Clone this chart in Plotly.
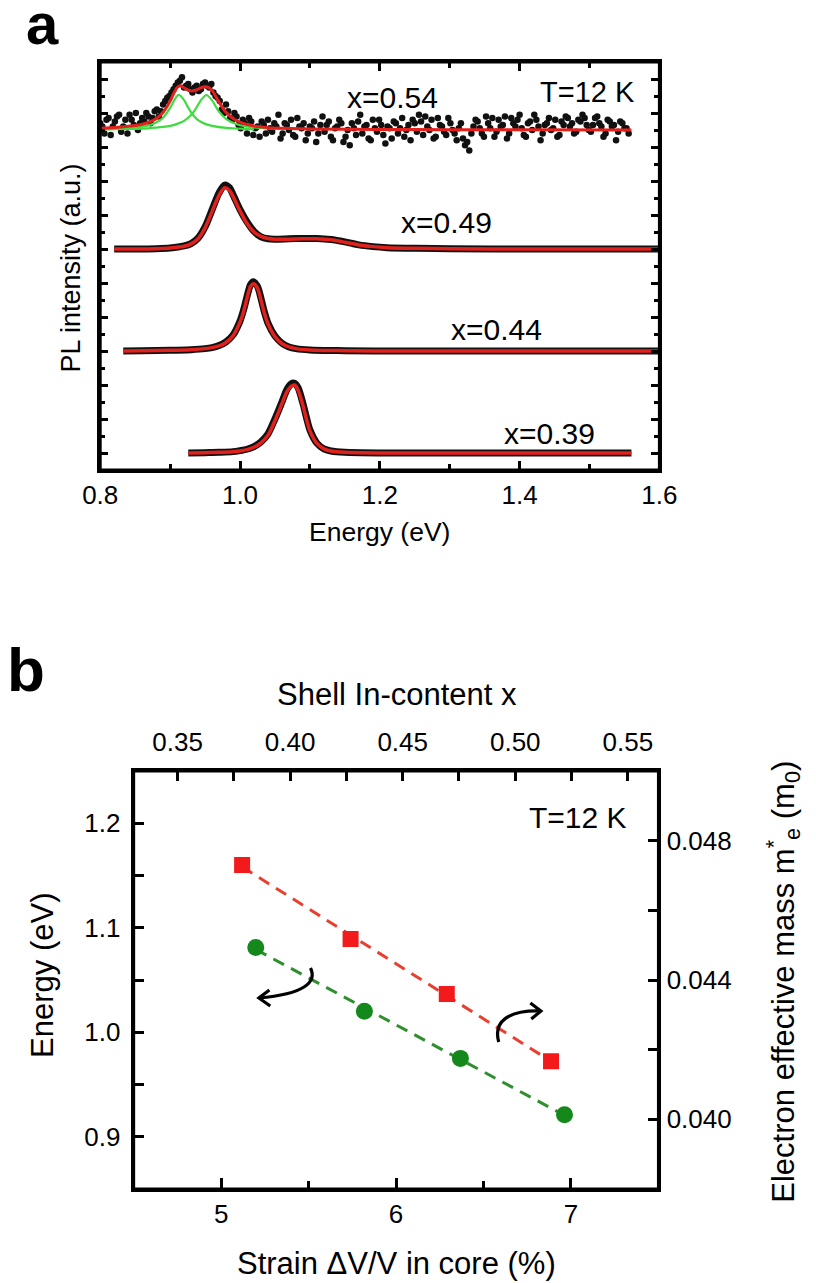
import numpy as np
import plotly.graph_objects as go

FONT = "Liberation Sans, Arial, sans-serif"

# ---------------- Panel a: PL spectra (energy in eV, intensity in a.u. above each baseline) ----------------
offset_039, offset_044, offset_049, offset_054 = 0.0, 3.0, 6.0, 9.5

E_fit_039 = [0.926, 0.95, 0.97, 0.99, 1.0, 1.01, 1.02, 1.03, 1.04, 1.05, 1.06, 1.067, 1.073, 1.078,
             1.083, 1.09, 1.095, 1.10, 1.11, 1.12, 1.13, 1.15, 1.2, 1.3, 1.4, 1.56]
I_fit_039 = [0.0, 0.01, 0.02, 0.04, 0.06, 0.1, 0.17, 0.3, 0.52, 0.95, 1.45, 1.8, 1.96, 2.0,
             1.85, 1.4, 1.0, 0.65, 0.28, 0.12, 0.06, 0.02, 0.0, 0.0, 0.0, 0.0]
I_dat_039 = [0.0, 0.01, 0.02, 0.04, 0.07, 0.11, 0.19, 0.33, 0.56, 1.0, 1.5, 1.86, 2.03, 2.05,
             1.92, 1.46, 1.05, 0.68, 0.29, 0.12, 0.06, 0.02, 0.0, 0.0, 0.0, 0.0]

E_fit_044 = [0.833, 0.86, 0.90, 0.93, 0.95, 0.96, 0.97, 0.98, 0.99, 1.0, 1.005, 1.01, 1.015, 1.019,
             1.025, 1.03, 1.035, 1.04, 1.05, 1.06, 1.07, 1.08, 1.1, 1.15, 1.2, 1.4, 1.6]
I_fit_044 = [0.0, 0.01, 0.02, 0.04, 0.07, 0.1, 0.15, 0.25, 0.45, 0.85, 1.15, 1.55, 1.9, 1.98,
             1.85, 1.5, 1.1, 0.8, 0.42, 0.22, 0.12, 0.07, 0.03, 0.01, 0.0, 0.0, 0.0]
I_dat_044 = [0.0, 0.01, 0.02, 0.04, 0.07, 0.1, 0.16, 0.27, 0.47, 0.88, 1.2, 1.6, 1.95, 2.04,
             1.9, 1.55, 1.14, 0.82, 0.44, 0.23, 0.12, 0.07, 0.03, 0.01, 0.0, 0.0, 0.0]

E_fit_049 = [0.82, 0.85, 0.88, 0.90, 0.92, 0.93, 0.94, 0.95, 0.96, 0.97, 0.978, 0.985, 0.99, 1.0,
             1.01, 1.02, 1.03, 1.04, 1.05, 1.07, 1.09, 1.11, 1.13, 1.15, 1.17, 1.19, 1.21, 1.25,
             1.3, 1.4, 1.6]
I_fit_049 = [0.0, 0.0, 0.01, 0.03, 0.08, 0.15, 0.3, 0.62, 1.1, 1.58, 1.8, 1.72, 1.55, 1.12,
             0.75, 0.5, 0.37, 0.31, 0.29, 0.29, 0.3, 0.3, 0.27, 0.2, 0.12, 0.07, 0.04, 0.02,
             0.01, 0.0, 0.0]
I_dat_049 = [0.0, 0.0, 0.01, 0.03, 0.09, 0.16, 0.32, 0.65, 1.15, 1.65, 1.88, 1.8, 1.6, 1.16,
             0.8, 0.52, 0.36, 0.3, 0.29, 0.3, 0.31, 0.31, 0.28, 0.21, 0.12, 0.07, 0.04, 0.02,
             0.01, 0.0, 0.0]

E_fit_054 = [0.80, 0.82, 0.84, 0.86, 0.87, 0.88, 0.89, 0.90, 0.905, 0.91, 0.915, 0.92, 0.925,
             0.93, 0.935, 0.94, 0.945, 0.952, 0.96, 0.965, 0.97, 0.98, 0.99, 1.00, 1.02, 1.04,
             1.06, 1.1, 1.2, 1.3, 1.4, 1.56]
I_fit_054 = [0.05, 0.07, 0.11, 0.17, 0.23, 0.33, 0.52, 0.85, 1.07, 1.25, 1.3, 1.24, 1.18,
             1.15, 1.16, 1.2, 1.25, 1.27, 1.17, 1.0, 0.82, 0.52, 0.34, 0.23, 0.12, 0.07,
             0.05, 0.03, 0.015, 0.01, 0.01, 0.0]
E_cmp1_054 = [0.80, 0.82, 0.84, 0.86, 0.87, 0.88, 0.89, 0.90, 0.905, 0.91, 0.913, 0.92, 0.925,
              0.93, 0.935, 0.94, 0.95, 0.96, 0.98, 1.00, 1.02]
I_cmp1_054 = [0.02, 0.03, 0.05, 0.1, 0.14, 0.22, 0.36, 0.65, 0.84, 1.0, 1.03, 0.88, 0.69,
              0.52, 0.39, 0.29, 0.18, 0.12, 0.06, 0.04, 0.02]
E_cmp2_054 = [0.80, 0.84, 0.86, 0.88, 0.89, 0.90, 0.91, 0.92, 0.93, 0.935, 0.94, 0.945, 0.952,
              0.96, 0.965, 0.97, 0.98, 0.99, 1.00, 1.02, 1.04, 1.06]
I_cmp2_054 = [0.02, 0.03, 0.04, 0.07, 0.09, 0.12, 0.18, 0.27, 0.44, 0.57, 0.74, 0.9, 1.03,
              0.87, 0.7, 0.54, 0.33, 0.21, 0.14, 0.075, 0.046, 0.031]

E_dat_054 = [0.800, 0.806, 0.812, 0.818, 0.824, 0.830, 0.836, 0.842, 0.848, 0.854, 0.860, 0.866,
             0.872, 0.878, 0.884, 0.890, 0.896, 0.902, 0.908, 0.914, 0.920, 0.926, 0.932, 0.938,
             0.944, 0.950, 0.956, 0.962, 0.968, 0.974, 0.980, 0.986, 0.992, 0.998, 1.004, 1.010,
             1.016, 1.022, 1.028, 1.034, 1.040, 1.046, 1.052, 1.058, 1.064, 1.070, 1.076, 1.082,
             1.088, 1.094, 1.100, 1.106, 1.112, 1.118, 1.124, 1.130, 1.136, 1.142, 1.148, 1.154,
             1.160, 1.166, 1.172, 1.178, 1.184, 1.190, 1.196, 1.202, 1.208, 1.214, 1.220, 1.226,
             1.232, 1.238, 1.244, 1.250, 1.256, 1.262, 1.268, 1.274, 1.280, 1.286, 1.292, 1.298,
             1.304, 1.310, 1.316, 1.322, 1.328, 1.334, 1.340, 1.346, 1.352, 1.358, 1.364, 1.370,
             1.376, 1.382, 1.388, 1.394, 1.400, 1.406, 1.412, 1.418, 1.424, 1.430, 1.436, 1.442,
             1.448, 1.454, 1.460, 1.466, 1.472, 1.478, 1.484, 1.490, 1.496, 1.502, 1.508, 1.514,
             1.520, 1.526, 1.532, 1.538, 1.544, 1.550, 1.556]
I_dat_054 = [0.2, -0.1, 0.35, 0.1, 0.4, -0.05, 0.3, 0.45, 0.15, 0.0, 0.35, 0.5,
             0.2, 0.55, 0.4, 0.75, 0.95, 1.1, 1.3, 1.45, 1.25, 1.35, 1.1, 1.3,
             1.2, 1.4, 1.25, 1.1, 0.95, 0.6, 0.75, 0.35, 0.5, 0.15, 0.3, -0.1,
             0.25, 0.05, -0.2, 0.15, 0.3, -0.05, 0.1, -0.25, 0.2, 0.0, -0.15, 0.35,
             0.05, -0.3, 0.1, 0.25, -0.1, 0.4, 0.15, -0.2, 0.05, 0.3, -0.35, 0.0,
             0.2, -0.15, 0.45, 0.1, -0.25, 0.3, -0.05, 0.15, -0.4, 0.05, 0.25, -0.1,
             0.35, 0.0, -0.3, 0.2, 0.45, -0.15, 0.1, 0.3, -0.2, 0.15, -0.05, 0.35,
             0.0, -0.3, 0.2, -0.45, -0.6, 0.1, 0.25, -0.1, 0.4, 0.05, -0.2, 0.3,
             0.15, -0.25, 0.35, 0.1, 0.45, -0.15, 0.2, 0.0, 0.3, -0.3, 0.15, 0.35,
             0.05, -0.2, 0.25, 0.4, 0.1, -0.1, 0.3, 0.45, 0.15, -0.05, 0.35, 0.2,
             -0.2, 0.3, 0.1, -0.3, 0.25, 0.05, -0.1]
E_dat2_054 = [0.803, 0.809, 0.815, 0.821, 0.827, 0.833, 0.839, 0.845, 0.851, 0.857, 0.863, 0.869,
              0.875, 0.881, 0.887, 0.893, 0.899, 0.905, 0.911, 0.917, 0.923, 0.929, 0.935, 0.941,
              0.947, 0.953, 0.959, 0.965, 0.971, 0.977, 0.983, 0.989, 0.995, 1.001, 1.007, 1.013,
              1.019, 1.025, 1.031, 1.037, 1.043, 1.049, 1.055, 1.061, 1.067, 1.073, 1.079, 1.085,
              1.091, 1.097, 1.103, 1.109, 1.115, 1.121, 1.127, 1.133, 1.139, 1.145, 1.151, 1.157,
              1.163, 1.169, 1.175, 1.181, 1.187, 1.193, 1.199, 1.205, 1.211, 1.217, 1.223, 1.229,
              1.235, 1.241, 1.247, 1.253, 1.259, 1.265, 1.271, 1.277, 1.283, 1.289, 1.295, 1.301,
              1.307, 1.313, 1.319, 1.325, 1.331, 1.337, 1.343, 1.349, 1.355, 1.361, 1.367, 1.373,
              1.379, 1.385, 1.391, 1.397, 1.403, 1.409, 1.415, 1.421, 1.427, 1.433, 1.439, 1.445,
              1.451, 1.457, 1.463, 1.469, 1.475, 1.481, 1.487, 1.493, 1.499, 1.505, 1.511, 1.517,
              1.523, 1.529, 1.535, 1.541, 1.547, 1.553]
I_dat2_054 = [0.1, 0.3, -0.15, 0.25, 0.45, 0.1, -0.1, 0.3, 0.5, 0.2, 0.25, 0.4,
              0.35, 0.6, 0.55, 0.85, 1.0, 1.2, 1.4, 1.55, 1.3, 1.2, 1.25, 1.15,
              1.35, 1.3, 1.35, 1.0, 0.85, 0.5, 0.55, 0.3, 0.4, 0.05, 0.2, 0.35,
              -0.15, 0.1, 0.25, -0.1, 0.05, 0.2, 0.45, -0.1, 0.15, 0.3, -0.2, 0.1,
              0.2, -0.1, 0.05, -0.35, 0.15, -0.05, 0.25, -0.3, 0.1, 0.2, -0.2, -0.45,
              0.05, 0.25, -0.1, 0.15, -0.3, 0.05, 0.3, -0.15, 0.1, -0.25, 0.2, 0.05,
              -0.2, 0.15, 0.3, -0.05, 0.25, 0.4, 0.0, -0.25, 0.35, 0.1, -0.15, 0.2,
              -0.1, 0.05, -0.25, -0.35, -0.1, 0.3, 0.05, -0.2, 0.2, 0.35, -0.05, 0.1,
              0.4, -0.1, 0.2, 0.3, 0.05, -0.2, 0.25, 0.45, 0.1, -0.1, 0.2, 0.0,
              0.3, -0.15, 0.15, 0.35, 0.2, -0.05, 0.25, 0.35, 0.0, 0.15, 0.4, 0.1,
              -0.1, 0.25, 0.15, -0.05, 0.2, 0.05]

spectrum_labels = ["x=0.54", "x=0.49", "x=0.44", "x=0.39"]

# ---------------- Panel b ----------------
strain_mass = [5.12, 5.74, 6.29, 6.886]          # % (bottom axis)
mass = [0.0473, 0.04518, 0.0436, 0.04167]        # m0 (right axis)
strain_energy = [5.198, 5.819, 6.368, 6.963]     # %
energy = [1.081, 1.020, 0.975, 0.921]            # eV (left axis)

shell_ticks = [0.35, 0.40, 0.45, 0.50, 0.55]
energy_ticks = [0.9, 1.0, 1.1, 1.2]
mass_ticks = [0.040, 0.044, 0.048]
strain_ticks = [5, 6, 7]

RED = "#f21a1a"
FITRED = "#e3211c"
GREEN_LINE = "#3fdc3f"
GREEN_PT = "#15881c"
GREEN_DASH = "#2f8f2f"
RED_DASH = "#e8402e"

W, H = 816, 1283
A_L, A_R, A_T, A_B = 86, 671, 62, 470
B_L, B_R, B_T, B_B = 121, 670, 771, 1189


def px(x):
    return x / W


def py(y):
    return 1 - y / H


fig = go.Figure()


def off(vals, o):
    return [v + o for v in vals]


for E, Id, If, o in [(E_fit_039, I_dat_039, I_fit_039, offset_039),
                     (E_fit_044, I_dat_044, I_fit_044, offset_044),
                     (E_fit_049, I_dat_049, I_fit_049, offset_049)]:
    fig.add_trace(go.Scatter(x=E, y=off(Id, o), mode="lines",
                             line=dict(color="#111111", width=7, shape="spline", smoothing=0.8),
                             xaxis="x", yaxis="y", showlegend=False, hoverinfo="skip"))
    fig.add_trace(go.Scatter(x=E, y=off(If, o), mode="lines",
                             line=dict(color=FITRED, width=3.5, shape="spline", smoothing=0.8),
                             xaxis="x", yaxis="y", showlegend=False, hoverinfo="skip"))

for E, I in [(E_dat_054, I_dat_054), (E_dat2_054, I_dat2_054)]:
    fig.add_trace(go.Scatter(x=E, y=off(I, offset_054), mode="markers",
                             marker=dict(color="#111111", size=6.5),
                             xaxis="x", yaxis="y", showlegend=False, hoverinfo="skip"))
fig.add_trace(go.Scatter(x=E_cmp1_054, y=off(I_cmp1_054, offset_054), mode="lines",
                         line=dict(color=GREEN_LINE, width=2.2, shape="spline", smoothing=0.8),
                         xaxis="x", yaxis="y", showlegend=False, hoverinfo="skip"))
fig.add_trace(go.Scatter(x=E_cmp2_054, y=off(I_cmp2_054, offset_054), mode="lines",
                         line=dict(color=GREEN_LINE, width=2.2, shape="spline", smoothing=0.8),
                         xaxis="x", yaxis="y", showlegend=False, hoverinfo="skip"))
fig.add_trace(go.Scatter(x=E_fit_054, y=off(I_fit_054, offset_054), mode="lines",
                         line=dict(color=FITRED, width=3, shape="spline", smoothing=0.8),
                         xaxis="x", yaxis="y", showlegend=False, hoverinfo="skip"))

pm = np.polyfit(strain_mass, mass, 1)
pe = np.polyfit(strain_energy, energy, 1)
xm = [strain_mass[0], strain_mass[-1]]
xe = [strain_energy[0], strain_energy[-1]]
fig.add_trace(go.Scatter(x=xm, y=list(np.polyval(pm, xm)), mode="lines",
                         line=dict(color=RED_DASH, width=3, dash="12px,8px"),
                         xaxis="x2", yaxis="y3", showlegend=False, hoverinfo="skip"))
fig.add_trace(go.Scatter(x=xe, y=list(np.polyval(pe, xe)), mode="lines",
                         line=dict(color=GREEN_DASH, width=3, dash="12px,8px"),
                         xaxis="x2", yaxis="y2", showlegend=False, hoverinfo="skip"))
fig.add_trace(go.Scatter(x=strain_mass, y=mass, mode="markers",
                         marker=dict(symbol="square", color=RED, size=16),
                         xaxis="x2", yaxis="y3", showlegend=False))
fig.add_trace(go.Scatter(x=strain_energy, y=energy, mode="markers",
                         marker=dict(symbol="circle", color=GREEN_PT, size=17),
                         xaxis="x2", yaxis="y2", showlegend=False))
fig.add_trace(go.Scatter(x=[shell_ticks[2]], y=[energy_ticks[1]], mode="markers",
                         marker=dict(size=1, opacity=0), xaxis="x3", yaxis="y2",
                         showlegend=False, hoverinfo="skip"))

axis_common = dict(showline=True, linecolor="#000000", linewidth=3, showgrid=False, zeroline=False,
                   ticks="inside", tickcolor="#000000", tickwidth=2.5,
                   tickfont=dict(family=FONT, size=26, color="black"), layer="above traces")

fig.update_layout(
    width=W, height=H, autosize=False,
    margin=dict(l=0, r=0, t=0, b=0),
    paper_bgcolor="white", plot_bgcolor="white",
    showlegend=False,
    xaxis=dict(axis_common, domain=[px(A_L), px(A_R)], anchor="y", range=[0.8, 1.6],
               tick0=0.8, dtick=0.2, tickformat=".1f", ticklen=9, mirror="ticks",
               minor=dict(ticks="inside", ticklen=6, tickwidth=2.5, tickcolor="#000000", dtick=0.1)),
    yaxis=dict(axis_common, domain=[py(A_B), py(A_T)], anchor="x", range=[-0.5, 11.5],
               tick0=0, dtick=1, ticklen=8, showticklabels=False, mirror="ticks",
               minor=dict(ticks="inside", ticklen=5, tickwidth=2.5, tickcolor="#000000", dtick=0.5)),
    xaxis2=dict(axis_common, domain=[px(B_L), px(B_R)], anchor="y2", range=[4.5, 7.5],
                tick0=5, dtick=1, ticklen=11,
                minor=dict(ticks="inside", ticklen=8, tickwidth=2.5, tickcolor="#000000", dtick=0.5)),
    xaxis3=dict(axis_common, overlaying="x2", side="top", anchor="y2", range=[0.3305, 0.5636],
                tick0=0.35, dtick=0.05, tickformat=".2f", ticklen=10, ticklabelstandoff=7,
                minor=dict(ticks="inside", ticklen=10, tickwidth=2.5, tickcolor="#000000", dtick=0.025)),
    yaxis2=dict(axis_common, domain=[py(B_B), py(B_T)], anchor="x2", range=[0.85, 1.25],
                tick0=0.9, dtick=0.1, tickformat=".1f", ticklen=10, ticklabelstandoff=5,
                minor=dict(ticks="inside", ticklen=10, tickwidth=2.5, tickcolor="#000000", dtick=0.05)),
    yaxis3=dict(axis_common, overlaying="y2", side="right", anchor="x2", range=[0.038, 0.050],
                tick0=0.040, dtick=0.004, tickformat=".3f", ticklen=10,
                minor=dict(ticks="inside", ticklen=10, tickwidth=2.5, tickcolor="#000000", dtick=0.002)),
)

frame = dict(type="line", xref="paper", yref="paper", line=dict(color="#000000", width=3), layer="above")
for L, R, T, B in [(A_L, A_R, A_T, A_B), (B_L, B_R, B_T, B_B)]:
    fig.add_shape(x0=px(L), x1=px(R), y0=py(T), y1=py(T), **frame)
    fig.add_shape(x0=px(L), x1=px(R), y0=py(B), y1=py(B), **frame)
    fig.add_shape(x0=px(L), x1=px(L), y0=py(T), y1=py(B), **frame)
    fig.add_shape(x0=px(R), x1=px(R), y0=py(T), y1=py(B), **frame)

ann = []


def A(text, x, y, size, angle=0, bold=False, xanchor="center"):
    ann.append(dict(text=f"<b>{text}</b>" if bold else text, x=px(x), y=py(y), xref="paper", yref="paper",
                    showarrow=False, xanchor=xanchor, yanchor="middle", textangle=angle,
                    font=dict(family=FONT, size=size, color="black")))


A("a", 26, 24, 58, bold=True)
A("b", 30, 670, 62, bold=True, xanchor="right")
A("T=12 K", 596, 92, 29)
for lab, (x, y) in zip(spectrum_labels, [(392, 98), (448, 222), (501, 329), (556, 433)]):
    A(lab, x, y, 30)
A("Energy (eV)", 378, 532, 26.5)
A("PL intensity (a.u.)", 55, 268, 27, angle=-90)
A("Shell In-content x", 396, 694, 31)
A("Strain ΔV/V in core (%)", 396, 1263, 31)
A("T=12 K", 586, 817, 30)
A("Energy (eV)", 25, 975, 31, angle=-90)
A("Electron effective mass m<sup>*</sup><sub>e</sub> (m<sub>0</sub>)", 800, 982, 31, angle=-90)
fig.update_layout(annotations=ann)

arrow_style = dict(type="path", xref="x2", yref="y2", line=dict(color="black", width=3.2))
fig.add_shape(path="M 5.511,1.0615 C 5.549,1.0481 5.478,1.0366 5.216,1.0328", **arrow_style)
fig.add_shape(path="M 5.276,1.0404 L 5.216,1.0328 L 5.281,1.0251", **arrow_style)
fig.add_shape(path="M 6.587,0.9907 C 6.555,1.0098 6.637,1.0213 6.828,1.0203", **arrow_style)
fig.add_shape(path="M 6.768,1.0280 L 6.828,1.0203 L 6.773,1.0127", **arrow_style)

fig.write_html("out.html")
